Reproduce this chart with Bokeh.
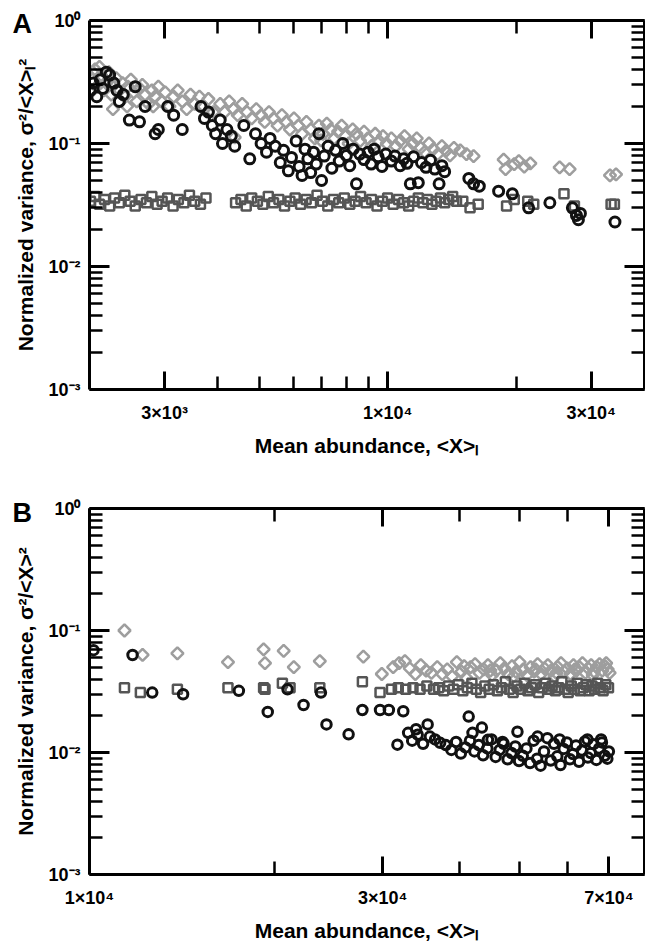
import math
from bokeh.plotting import figure
from bokeh.models import LogAxis, FixedTicker, ColumnDataSource, Range1d, Title
from bokeh.layouts import column
from bokeh.embed import file_html
from bokeh.resources import INLINE

FONT = "Liberation Sans"

# ---------------- data: panel A ----------------
a_diamonds = [
    (2010, 0.26), (2030, 0.33), (2060, 0.40), (2080, 0.29), (2110, 0.42), (2130, 0.36),
    (2160, 0.27), (2190, 0.31), (2220, 0.38), (2250, 0.25), (2270, 0.19), (2280, 0.30),
    (2310, 0.34), (2350, 0.27), (2390, 0.31), (2420, 0.24), (2450, 0.20), (2460, 0.29),
    (2500, 0.33), (2540, 0.26), (2580, 0.22), (2620, 0.28), (2660, 0.30), (2700, 0.25),
    (2750, 0.21), (2800, 0.27), (2820, 0.20), (2850, 0.24), (2900, 0.29), (2950, 0.22),
    (3010, 0.26), (3080, 0.20), (3150, 0.24), (3220, 0.27), (3300, 0.22), (3380, 0.19),
    (3450, 0.25), (3530, 0.21), (3620, 0.24), (3700, 0.20), (3800, 0.23), (3900, 0.18),
    (4050, 0.21), (4150, 0.18), (4250, 0.22), (4350, 0.19), (4380, 0.112), (4450, 0.17),
    (4560, 0.21), (4680, 0.18), (4800, 0.16), (4920, 0.19), (5050, 0.17), (5150, 0.15),
    (5270, 0.18), (5400, 0.16), (5520, 0.14), (5650, 0.17), (5780, 0.15), (5900, 0.13),
    (6030, 0.16), (6170, 0.14), (6300, 0.12), (6450, 0.15), (6600, 0.13), (6750, 0.11),
    (6900, 0.14), (6980, 0.106), (7050, 0.12), (7200, 0.145), (7350, 0.13), (7500, 0.11),
    (7650, 0.125), (7800, 0.14), (7950, 0.115), (8100, 0.10), (8280, 0.13), (8450, 0.12),
    (8620, 0.105), (8800, 0.125), (8980, 0.11), (9160, 0.095), (9350, 0.12), (9550, 0.105),
    (9750, 0.115), (9950, 0.10), (10200, 0.11), (10450, 0.095), (10700, 0.105), (10950, 0.115),
    (11200, 0.09), (11450, 0.10), (11700, 0.11), (11950, 0.092), (12200, 0.085), (12500, 0.10),
    (12800, 0.09), (13100, 0.082), (13400, 0.095), (13700, 0.087), (14000, 0.08), (14300, 0.092),
    (14800, 0.088), (15300, 0.082), (15900, 0.079), (18700, 0.074), (18900, 0.062), (19800, 0.068),
    (20300, 0.072), (20900, 0.065), (21600, 0.069), (25300, 0.064), (26700, 0.062), (33200, 0.055),
    (34300, 0.056),
]

a_squares = [
    (2010, 0.034), (2060, 0.037), (2110, 0.032), (2170, 0.035), (2230, 0.031), (2290, 0.036),
    (2350, 0.033), (2420, 0.038), (2490, 0.034), (2560, 0.031), (2640, 0.035), (2720, 0.033),
    (2800, 0.037), (2880, 0.032), (2960, 0.034), (3050, 0.036), (3140, 0.031), (3230, 0.035),
    (3330, 0.033), (3430, 0.038), (3530, 0.034), (3640, 0.032), (3750, 0.036), (4400, 0.033),
    (4530, 0.035), (4660, 0.031), (4800, 0.036), (4950, 0.034), (5100, 0.032), (5250, 0.037),
    (5400, 0.033), (5560, 0.035), (5730, 0.031), (5900, 0.034), (6070, 0.036), (6250, 0.032),
    (6440, 0.035), (6630, 0.033), (6830, 0.038), (7030, 0.034), (7240, 0.031), (7460, 0.035),
    (7680, 0.033), (7910, 0.036), (8150, 0.032), (8390, 0.034), (8640, 0.037), (8900, 0.033),
    (9170, 0.035), (9440, 0.031), (9720, 0.034), (10000, 0.036), (10300, 0.032), (10600, 0.035),
    (10900, 0.033), (11200, 0.031), (11500, 0.034), (11800, 0.036), (12100, 0.033), (12400, 0.035),
    (12700, 0.032), (13000, 0.034), (13300, 0.036), (13600, 0.033), (13900, 0.035), (14200, 0.037),
    (14500, 0.034), (15000, 0.034), (15600, 0.030), (16300, 0.032), (19000, 0.031), (19800, 0.035),
    (21300, 0.034), (22000, 0.032), (25900, 0.039), (27400, 0.031), (33400, 0.032), (34000, 0.032),
]

a_circles = [
    (2010, 0.27), (2040, 0.31), (2080, 0.24), (2120, 0.33), (2150, 0.28), (2190, 0.38),
    (2230, 0.36), (2280, 0.31), (2320, 0.27), (2350, 0.22), (2400, 0.25), (2480, 0.155),
    (2560, 0.29), (2620, 0.15), (2700, 0.20), (2850, 0.12), (2900, 0.13), (3050, 0.20),
    (3150, 0.17), (3300, 0.13), (3650, 0.20), (3720, 0.16), (3800, 0.18), (3880, 0.14),
    (3950, 0.12), (4050, 0.155), (4100, 0.10), (4200, 0.13), (4300, 0.115), (4380, 0.095),
    (4600, 0.14), (4750, 0.075), (4900, 0.12), (5050, 0.10), (5200, 0.085), (5300, 0.11),
    (5450, 0.095), (5600, 0.07), (5700, 0.088), (5850, 0.06), (5950, 0.077), (6100, 0.105),
    (6200, 0.065), (6300, 0.055), (6400, 0.09), (6500, 0.075), (6600, 0.058), (6700, 0.085),
    (6800, 0.068), (6900, 0.12), (7000, 0.05), (7100, 0.079), (7250, 0.095), (7400, 0.063),
    (7550, 0.088), (7700, 0.072), (7850, 0.10), (8000, 0.08), (8150, 0.066), (8300, 0.09),
    (8450, 0.047), (8600, 0.082), (8800, 0.074), (9000, 0.085), (9150, 0.068), (9300, 0.09),
    (9500, 0.078), (9700, 0.065), (9900, 0.082), (10200, 0.072), (10400, 0.079), (10700, 0.066),
    (10900, 0.075), (11100, 0.069), (11300, 0.047), (11500, 0.078), (11800, 0.048), (12000, 0.07),
    (12300, 0.064), (12600, 0.073), (12900, 0.062), (13200, 0.047), (13400, 0.066), (13600, 0.059),
    (15500, 0.052), (15900, 0.047), (16400, 0.045), (18200, 0.041), (19600, 0.039), (21400, 0.030),
    (24000, 0.033), (27100, 0.030), (27700, 0.026), (28000, 0.024), (28300, 0.027), (34100, 0.023),
]

# ---------------- data: panel B ----------------
b_diamonds = [
    (11400, 0.10), (12200, 0.063), (13900, 0.065), (16800, 0.055), (19200, 0.070), (19300, 0.054),
    (20700, 0.068), (21500, 0.050), (23700, 0.056), (27900, 0.061), (29900, 0.044), (31200, 0.050),
    (31900, 0.054), (32600, 0.056), (33200, 0.049), (33900, 0.044), (34600, 0.052), (35300, 0.047),
    (36000, 0.045), (36800, 0.050), (37500, 0.044), (38200, 0.048), (38900, 0.042), (39600, 0.055),
    (40300, 0.046), (41000, 0.041), (41700, 0.050), (42400, 0.053), (43100, 0.045), (43800, 0.048),
    (44500, 0.052), (45200, 0.043), (45900, 0.047), (46600, 0.054), (47300, 0.049), (48000, 0.044),
    (48700, 0.051), (49400, 0.046), (50100, 0.055), (50800, 0.048), (51500, 0.043), (52200, 0.050),
    (52900, 0.046), (53600, 0.053), (54300, 0.044), (55000, 0.049), (55700, 0.052), (56400, 0.047),
    (57100, 0.042), (57800, 0.050), (58500, 0.054), (59200, 0.046), (59900, 0.049), (60600, 0.044),
    (61300, 0.052), (62000, 0.047), (62700, 0.050), (63400, 0.054), (64100, 0.045), (64800, 0.049),
    (65500, 0.052), (66200, 0.046), (66900, 0.050), (67600, 0.053), (68300, 0.047), (69000, 0.051),
    (69700, 0.048), (70200, 0.045), (40700, 0.051), (44900, 0.047), (49000, 0.042), (53200, 0.048),
    (57500, 0.045), (61600, 0.048), (65900, 0.043), (69300, 0.054),
]

b_squares = [
    (11400, 0.034), (12100, 0.031), (13900, 0.033), (16800, 0.034), (19200, 0.034), (19300, 0.033),
    (20600, 0.037), (21200, 0.034), (23700, 0.034), (27800, 0.038), (29700, 0.031), (31000, 0.033),
    (31800, 0.034), (32700, 0.033), (33600, 0.034), (34500, 0.033), (35400, 0.035), (36300, 0.033),
    (37000, 0.034), (37700, 0.032), (38400, 0.035), (39100, 0.033), (39800, 0.036), (40500, 0.032),
    (41200, 0.034), (41900, 0.037), (42600, 0.033), (43300, 0.031), (44000, 0.035), (44700, 0.033),
    (45400, 0.036), (46100, 0.032), (46800, 0.034), (47500, 0.038), (48200, 0.033), (48900, 0.031),
    (49600, 0.035), (50300, 0.033), (51000, 0.037), (51700, 0.032), (52400, 0.034), (53100, 0.036),
    (53800, 0.031), (54500, 0.034), (55200, 0.037), (55900, 0.033), (56600, 0.035), (57300, 0.032),
    (58000, 0.034), (58700, 0.038), (59400, 0.033), (60100, 0.031), (60800, 0.035), (61500, 0.033),
    (62200, 0.037), (62900, 0.032), (63600, 0.034), (64300, 0.036), (65000, 0.032), (65700, 0.035),
    (66400, 0.033), (67100, 0.037), (67800, 0.034), (68500, 0.032), (69200, 0.036), (69900, 0.034),
]

b_circles = [
    (10150, 0.069), (11750, 0.063), (12650, 0.031), (14200, 0.030), (17500, 0.032), (19500, 0.0215),
    (21000, 0.033), (22300, 0.0245), (23800, 0.031), (24300, 0.017), (26400, 0.0141), (27800, 0.0223),
    (29700, 0.0223), (30700, 0.0223), (31700, 0.0116), (32400, 0.0218), (33000, 0.0145), (33500, 0.0125),
    (34000, 0.0155), (34200, 0.014), (34900, 0.0118), (35500, 0.017), (35800, 0.0135), (36500, 0.0128),
    (37200, 0.012), (38000, 0.0115), (38800, 0.0105), (39500, 0.0122), (40200, 0.0098), (40900, 0.011),
    (41400, 0.0197), (41600, 0.0125), (42000, 0.0145), (42300, 0.0102), (43000, 0.0115), (43500, 0.016),
    (43700, 0.0095), (44400, 0.0108), (44500, 0.0127), (45100, 0.0128), (45800, 0.0092), (46500, 0.0105),
    (47000, 0.0122), (47200, 0.0118), (47900, 0.0088), (48600, 0.0099), (49300, 0.0112), (49700, 0.0148),
    (50000, 0.0085), (50700, 0.0094), (51400, 0.0108), (52100, 0.0082), (52800, 0.0125), (53500, 0.0089),
    (53600, 0.0135), (54200, 0.0078), (54900, 0.0102), (55600, 0.0131), (56300, 0.0086), (57000, 0.0118),
    (57700, 0.0093), (58200, 0.0128), (58400, 0.0079), (59100, 0.0107), (59800, 0.0121), (60500, 0.0088),
    (61200, 0.0097), (61900, 0.0114), (62600, 0.0084), (63300, 0.0104), (64000, 0.0123), (64600, 0.0128),
    (64700, 0.0091), (65400, 0.0099), (66100, 0.0117), (66800, 0.0087), (67500, 0.0108), (68000, 0.0128),
    (68200, 0.0121), (68900, 0.0094), (69600, 0.0089), (70000, 0.0102),
]

# ---------------- ticks ----------------
y_major = [1e-3, 1e-2, 1e-1, 1.0]
y_minor = [m * d for d in (1e-3, 1e-2, 1e-1) for m in range(2, 10)]
y_labels = {1e-3: "10\u207b\u00b3", 1e-2: "10\u207b\u00b2", 1e-1: "10\u207b\u00b9", 1.0: "10\u2070"}

a_x_major = [3000, 10000, 30000]
a_x_minor = [4000, 5000, 6000, 7000, 8000, 9000, 20000]
a_x_labels = {3000: "3\u00d710\u00b3", 10000: "1\u00d710\u2074", 30000: "3\u00d710\u2074"}

b_x_major = [10000, 30000, 70000]
b_x_minor = [20000, 40000, 50000, 60000]
b_x_labels = {10000: "1\u00d710\u2074", 30000: "3\u00d710\u2074", 70000: "7\u00d710\u2074"}

X_LABEL = "Mean abundance, <X>\u2097"
Y_LABEL_A = "Normalized variance, \u03c3\u00b2/<X>\u2097\u00b2"
Y_LABEL_B = "Normalized variance, \u03c3\u00b2/<X>\u00b2"


def style_axis(ax, major_len, minor_len, ticks=None):
    ax.axis_line_width = 3
    ax.axis_line_color = "black"
    ax.major_tick_line_width = 3
    ax.minor_tick_line_width = 2.5
    ax.major_tick_in = major_len
    ax.major_tick_out = 0
    ax.minor_tick_in = minor_len
    ax.minor_tick_out = 0
    if ticks is None:
        ax.major_label_text_font = FONT
        ax.major_label_text_font_style = "bold"
        ax.major_label_text_font_size = "18px"
        ax.major_label_text_color = "black"
        ax.axis_label_text_font = FONT
        ax.axis_label_text_font_style = "bold"
        ax.axis_label_text_font_size = "21px"
        ax.axis_label_text_color = "black"
    else:
        # mirrored frame axis: ticks only, no labels
        ax.major_label_overrides = {t: "" for t in ticks}
        ax.major_label_text_font_size = "2px"
        ax.major_label_standoff = 0


def make_panel(letter, x_rng, x_major, x_minor, x_labels, y_label, series,
               height, ml, mt, mb, letter_x, letter_drop):
    p = figure(width=645, height=height, x_axis_type="log", y_axis_type="log",
               x_range=Range1d(*x_rng), y_range=Range1d(1e-3, 1.0),
               output_backend="svg", toolbar_location=None,
               min_border_left=ml, min_border_right=1, min_border_top=mt,
               min_border_bottom=mb)
    p.outline_line_color = None
    p.grid.visible = False
    p.background_fill_color = "white"
    p.border_fill_color = "white"

    xa = p.xaxis[0]
    xa.ticker = FixedTicker(ticks=x_major, minor_ticks=x_minor)
    xa.major_label_overrides = x_labels
    style_axis(xa, 18, 13)
    xa.major_label_standoff = 13
    xa.axis_label = X_LABEL
    xa.axis_label_standoff = 8

    ya = p.yaxis[0]
    ya.ticker = FixedTicker(ticks=y_major, minor_ticks=y_minor)
    ya.major_label_overrides = y_labels
    style_axis(ya, 20, 13)
    ya.major_label_standoff = 9
    ya.axis_label = y_label
    ya.axis_label_standoff = 8

    top = LogAxis(ticker=FixedTicker(ticks=x_major, minor_ticks=x_minor))
    style_axis(top, 18, 13, ticks=x_major)
    p.add_layout(top, "above")
    right = LogAxis(ticker=FixedTicker(ticks=y_major, minor_ticks=y_minor))
    style_axis(right, 20, 13, ticks=y_major)
    p.add_layout(right, "right")

    for pts, marker, size, color, lw, angle in series:
        src = ColumnDataSource(dict(x=[a for a, _ in pts], y=[b for _, b in pts]))
        p.scatter("x", "y", source=src, marker=marker, size=size, angle=angle,
                  fill_color=None, line_color=color, line_width=lw)

    # panel letter as a left-aligned title, pulled down beside the frame's top corner
    p.add_layout(Title(text=letter, align="left", offset=-(ml - letter_x),
                       standoff=-(15 + letter_drop),
                       text_font=FONT, text_font_style="bold", text_font_size="27px",
                       text_color="black"), "above")
    return p


DIA = "#9e9e9e"
SQ = "#555555"
CIR = "#111111"

pa = make_panel("A", (2000, 40000), a_x_major, a_x_minor, a_x_labels, Y_LABEL_A,
                [(a_diamonds, "square", 8.5, DIA, 2.5, math.pi / 4),
                 (a_squares, "square", 9, SQ, 2.5, 0.0),
                 (a_circles, "circle", 10, CIR, 3, 0.0)],
                height=462, ml=87, mt=20, mb=73, letter_x=10, letter_drop=21)

pb = make_panel("B", (10000, 80000), b_x_major, b_x_minor, b_x_labels, Y_LABEL_B,
                [(b_diamonds, "square", 8.5, DIA, 2.5, math.pi / 4),
                 (b_squares, "square", 9, SQ, 2.5, 0.0),
                 (b_circles, "circle", 9.5, CIR, 3, 0.0)],
                height=482, ml=89, mt=46, mb=69, letter_x=12, letter_drop=23)

layout = column(pa, pb, spacing=0)
open("out.html", "w").write(file_html(layout, INLINE))
